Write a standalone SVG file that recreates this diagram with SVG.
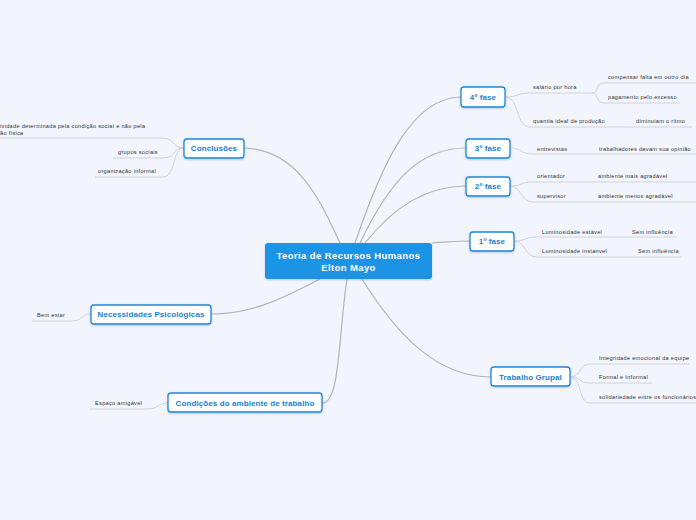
<svg xmlns="http://www.w3.org/2000/svg" width="696" height="520" viewBox="0 0 696 520">
<style>
.bg{fill:#f2f5fd}
.main rect{fill:#ffffff;stroke:#1b87de;stroke-width:1.3}
.main text{font-family:"Liberation Sans",Arial,sans-serif;font-weight:bold;font-size:8px;fill:#1b7fd6;text-anchor:middle;letter-spacing:0.1px}
.main text.sub{font-family:"Liberation Sans",Arial,sans-serif;font-weight:normal;font-size:5.6px;fill:#333333;text-anchor:start;letter-spacing:0.3px}
.conn path{fill:none;stroke:#b4b4b8;stroke-width:1.2}
.ul path{fill:none;stroke:#d2d3d8;stroke-width:1}
.ct{font-family:"Liberation Sans",Arial,sans-serif;font-weight:bold;font-size:9.5px;fill:#ffffff;text-anchor:middle;letter-spacing:0.4px}
</style>
<defs>
<filter id="sh" x="-10%" y="-20%" width="120%" height="150%">
<feDropShadow dx="0" dy="1" stdDeviation="0.8" flood-color="#000" flood-opacity="0.2"/>
</filter>
</defs>
<rect class="bg" x="0" y="0" width="696" height="520"/>
<g id="connectors" class="conn">
<path d="M244,148 C300,150 322,205 340,243"/>
<path d="M355,243 C380,170 410,97 461,97"/>
<path d="M360,243 C390,180 420,148 466,148"/>
<path d="M365,243 C395,205 430,186 466,186"/>
<path d="M432,243 C450,242 455,241 470,241"/>
<path d="M362,279 C400,340 440,377 491,377"/>
<path d="M320,279 C280,300 250,314 211,314"/>
<path d="M347,279 C338,340 340,403 322,403"/>
</g>
<g id="sub-connectors" class="ul">
<path d="M505,97 C518,97 518,93 530,93 L592,93"/>
<path d="M505,97 C520,97 515,127 530,127 L610,127"/>
<path d="M592,93 C600,93 594,83 604,83 L696,83"/>
<path d="M592,93 C600,93 594,103 604,103 L680,103"/>
<path d="M610,127 L692,127"/>
<path d="M510,148 C522,148 520,154 533,154 L696,154"/>
<path d="M510,186 C522,186 520,182 533,182 L696,182"/>
<path d="M510,186 C522,186 520,202 533,202 L696,202"/>
<path d="M514,241 C526,241 524,237 537,237 L677,237"/>
<path d="M514,241 C526,241 524,257 537,257 L682,257"/>
<path d="M570,377 C582,377 578,364 590,364 L690,364"/>
<path d="M570,377 C582,377 578,383 590,383 L652,383"/>
<path d="M570,377 C582,377 578,403 590,403 L696,403"/>
<path d="M184,148 C172,148 175,138 163,138 L0,138"/>
<path d="M184,148 C172,148 176,158 163,158 L113,158"/>
<path d="M184,148 C172,148 176,177 163,177 L95,177"/>
<path d="M91,314 C80,314 83,321 72,321 L32,321"/>
<path d="M168,403 C158,403 158,409 148,409 L90,409"/>
</g>
<g id="central">
<rect x="265" y="243" width="167" height="36" rx="3" fill="#1a94e6" filter="url(#sh)"/>
<text class="ct" x="348.5" y="258.5">Teoria de Recursos Humanos</text>
<text class="ct" x="348.5" y="270.5">Elton Mayo</text>
</g>
<g id="fase4" class="main">
<rect x="461" y="87" width="44" height="20" rx="3" filter="url(#sh)"/>
<text x="483" y="100">4º fase</text>
<text class="sub" x="533" y="89">salário por hora</text>
<text class="sub" x="608" y="79">compensar falta em outro dia</text>
<text class="sub" x="608" y="99">pagamento pelo excesso</text>
<text class="sub" x="533" y="123">quantia ideal de produção</text>
<text class="sub" x="636" y="123">diminuiam o ritmo</text>
</g>
<g id="fase3" class="main">
<rect x="466" y="139" width="44" height="19" rx="3" filter="url(#sh)"/>
<text x="488" y="151">3º fase</text>
<text class="sub" x="537" y="151">entrevistas</text>
<text class="sub" x="599" y="151">trabalhadores davam sua opinião</text>
</g>
<g id="fase2" class="main">
<rect x="466" y="177" width="44" height="19" rx="3" filter="url(#sh)"/>
<text x="488" y="189">2º fase</text>
<text class="sub" x="537" y="178">orientador</text>
<text class="sub" x="598" y="178">ambiente mais agradável</text>
<text class="sub" x="537" y="198">supervisor</text>
<text class="sub" x="598" y="198">ambiente menos agradável</text>
</g>
<g id="fase1" class="main">
<rect x="470" y="232" width="44" height="19" rx="3" filter="url(#sh)"/>
<text x="492" y="244">1º fase</text>
<text class="sub" x="542" y="234">Luminosidade estável</text>
<text class="sub" x="632" y="234">Sem influência</text>
<text class="sub" x="542" y="253">Luminosidade instanvel</text>
<text class="sub" x="638" y="253">Sem influência</text>
</g>
<g id="trabalho-grupal" class="main">
<rect x="491" y="367" width="79" height="19" rx="3" filter="url(#sh)"/>
<text x="530.5" y="379.5">Trabalho Grupal</text>
<text class="sub" x="599" y="360">Integridade emocional da equipe</text>
<text class="sub" x="599" y="379">Formal e Informal</text>
<text class="sub" x="599" y="399">solidariedade entre os funcionários</text>
</g>
<g id="conclusoes" class="main">
<rect x="184" y="139" width="60" height="19" rx="3" filter="url(#sh)"/>
<text x="214" y="151">Conclusões</text>
<text class="sub" x="0" y="128">ividade determinada pela condição social e não pela</text>
<text class="sub" x="0" y="134.5">ão física</text>
<text class="sub" x="118" y="154">grupos sociais</text>
<text class="sub" x="98" y="173">organização informal</text>
</g>
<g id="necessidades" class="main">
<rect x="91" y="305" width="120" height="19" rx="3" filter="url(#sh)"/>
<text x="151" y="317">Necessidades Psicológicas</text>
<text class="sub" x="37" y="317">Bem estar</text>
</g>
<g id="condicoes" class="main">
<rect x="168" y="393" width="154" height="19" rx="3" filter="url(#sh)"/>
<text x="245" y="405.5">Condições do ambiente de trabalho</text>
<text class="sub" x="95" y="405">Espaço amigável</text>
</g>
</svg>
